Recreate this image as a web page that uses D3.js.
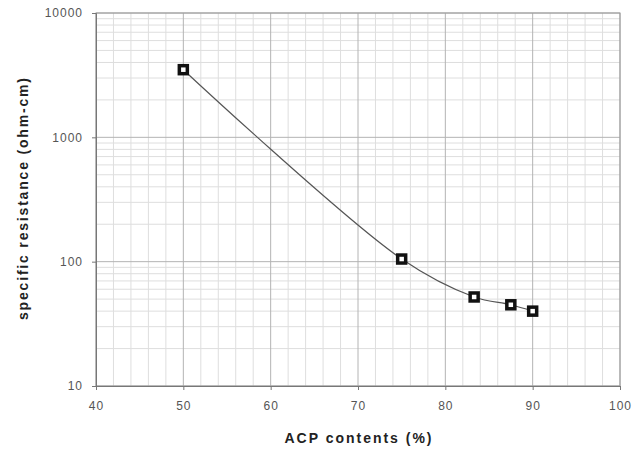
<!DOCTYPE html>
<html>
<head>
<meta charset="utf-8">
<script src="https://cdn.jsdelivr.net/npm/d3@7"></script>
<style>
  body { margin: 0; background: #fff; }
  svg { display: block; font-family: "Liberation Sans", Arial, sans-serif; }
  .tick text { fill: #555; font-size: 12px; letter-spacing: 1px; }
</style>
</head>
<body>
<svg></svg>
<script>
var width = 642, height = 450;
var padding = { top: 13, right: 22, bottom: 64, left: 96 };

// data
var acpContents = [50, 75, 83.3, 87.5, 90];
var resistance = [3500, 105, 52, 45, 40];
var xTicks = [40, 50, 60, 70, 80, 90, 100];
var yTicks = [10, 100, 1000, 10000];

var svg = d3.select("svg")
  .attr("width", width)
  .attr("height", height);

var xScale = d3.scaleLinear()
  .domain([40, 100])
  .range([padding.left, width - padding.right]);

var yScale = d3.scaleLog()
  .domain([10, 10000])
  .range([height - padding.bottom, padding.top]);

// minor grid
var xMinor = d3.range(40, 101, 2).filter(d => d % 10 != 0);
var yMinor = [];
[10, 100, 1000].forEach(function(dec) {
  for (var k = 2; k <= 9; k++) yMinor.push(dec * k);
});

svg.append("g")
  .selectAll("line")
  .data(xMinor)
  .enter()
  .append("line")
    .attr("x1", d => xScale(d))
    .attr("x2", d => xScale(d))
    .attr("y1", yScale(10))
    .attr("y2", yScale(10000))
    .attr("stroke", "#dedede");

svg.append("g")
  .selectAll("line")
  .data(yMinor)
  .enter()
  .append("line")
    .attr("x1", xScale(40))
    .attr("x2", xScale(100))
    .attr("y1", d => yScale(d))
    .attr("y2", d => yScale(d))
    .attr("stroke", "#dedede");

// major grid
svg.append("g")
  .selectAll("line")
  .data(xTicks)
  .enter()
  .append("line")
    .attr("x1", d => xScale(d))
    .attr("x2", d => xScale(d))
    .attr("y1", yScale(10))
    .attr("y2", yScale(10000))
    .attr("stroke", "#b4b4b4");

svg.append("g")
  .selectAll("line")
  .data(yTicks)
  .enter()
  .append("line")
    .attr("x1", xScale(40))
    .attr("x2", xScale(100))
    .attr("y1", d => yScale(d))
    .attr("y2", d => yScale(d))
    .attr("stroke", "#b4b4b4");

// frame
svg.append("rect")
  .attr("x", xScale(40))
  .attr("y", yScale(10000))
  .attr("width", xScale(100) - xScale(40))
  .attr("height", yScale(10) - yScale(10000))
  .attr("fill", "none")
  .attr("stroke", "#999");

// axes
svg.append("g")
  .attr("transform", "translate(0, " + (height - padding.bottom) + ")")
  .call(d3.axisBottom(xScale).tickValues(xTicks).tickSize(4).tickPadding(11))
  .call(g => g.select(".domain").attr("stroke", "#777"))
  .call(g => g.selectAll(".tick line").attr("stroke", "#777"));

svg.append("g")
  .attr("transform", "translate(" + padding.left + ", 0)")
  .call(d3.axisLeft(yScale).tickValues(yTicks).tickFormat(d3.format("d")).tickSize(4).tickPadding(9))
  .call(g => g.select(".domain").attr("stroke", "#777"))
  .call(g => g.selectAll(".tick line").attr("stroke", "#777"));

// axis titles
svg.append("text")
  .attr("x", 358)
  .attr("y", 443)
  .attr("text-anchor", "middle")
  .attr("font-size", 14)
  .attr("font-weight", "bold")
  .attr("fill", "#222")
  .attr("textLength", 147)
  .attr("lengthAdjust", "spacing")
  .text("ACP contents (%)");

svg.append("text")
  .attr("transform", "rotate(-90)")
  .attr("x", -199)
  .attr("y", 28)
  .attr("text-anchor", "middle")
  .attr("font-size", 14)
  .attr("font-weight", "bold")
  .attr("fill", "#222")
  .attr("textLength", 242)
  .attr("lengthAdjust", "spacing")
  .text("specific resistance (ohm-cm)");

// series
var points = acpContents.map((x, i) => ({ x: x, y: resistance[i] }));

var line = d3.line()
  .x(d => xScale(d.x))
  .y(d => yScale(d.y))
  .curve(d3.curveCatmullRom.alpha(0.5));

svg.append("path")
  .datum(points)
  .attr("d", line)
  .attr("fill", "none")
  .attr("stroke", "#555")
  .attr("stroke-width", 1.2);

svg.append("g")
  .selectAll("rect")
  .data(points)
  .enter()
  .append("rect")
    .attr("x", d => xScale(d.x) - 4)
    .attr("y", d => yScale(d.y) - 4)
    .attr("width", 8)
    .attr("height", 8)
    .attr("fill", "#fff")
    .attr("stroke", "#111")
    .attr("stroke-width", 3.5);
</script>
</body>
</html>
